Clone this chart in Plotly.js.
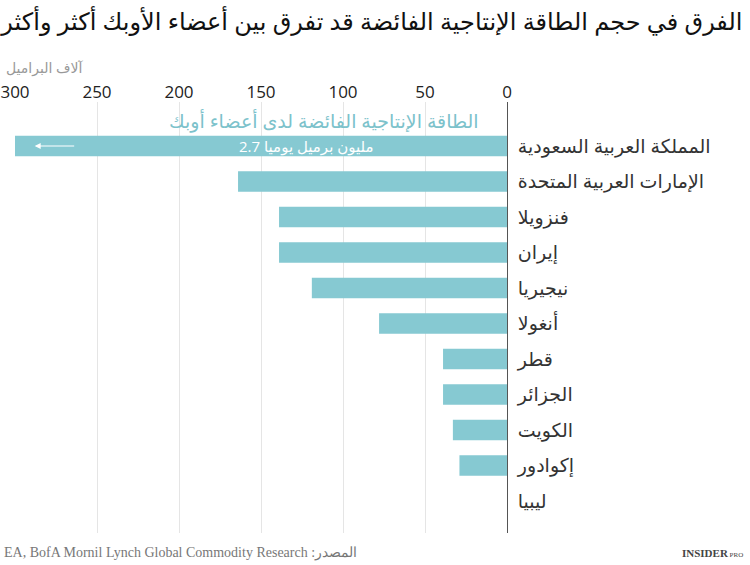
<!DOCTYPE html>
<html>
<head>
<meta charset="utf-8">
<script src="https://cdn.plot.ly/plotly-3.0.1.min.js"></script>
<style>
html,body{margin:0;padding:0;background:#fff;}
#chart{width:750px;height:565px;}
</style>
</head>
<body>
<div id="chart"></div>
<script>
// Data (thousand barrels per day)
const countries = ["المملكة العربية السعودية","الإمارات العربية المتحدة","فنزويلا","إيران","نيجيريا","أنغولا","قطر","الجزائر","الكويت","إكوادور","ليبيا"];
const spareCapacity = [2700, 164, 139, 139, 119, 78, 39, 39, 33, 29, 0];
const tickValues = [0, 50, 100, 150, 200, 250, 300];
const tickLabels = ["0", "50", "100", "150", "200", "250", "300"];

const titleText = "الفرق في حجم الطاقة الإنتاجية الفائضة قد تفرق بين أعضاء الأوبك أكثر وأكثر";
const unitText = "آلاف البراميل";
const seriesText = "الطاقة الإنتاجية الفائضة لدى أعضاء أوبك";
const saudiNote = "\u200E2.7 مليون برميل يوميا";
const sourceText = "EA, BofA Mornil Lynch Global Commodity Research :المصدر";

const barColor = "#86c9d2";
const fontFam = "'Open Sans', 'DejaVu Sans', sans-serif";

const trace = {
  type: "bar",
  orientation: "h",
  y: countries,
  x: spareCapacity,
  marker: {color: barColor, line: {width: 0}},
  hoverinfo: "x+y",
  cliponaxis: true
};

const layout = {
  width: 750, height: 565,
  margin: {l: 15, r: 243, t: 102, b: 32},
  paper_bgcolor: "#fff", plot_bgcolor: "#fff",
  showlegend: false,
  bargap: 0.42,
  font: {family: fontFam, color: "#333"},
  title: {
    text: titleText,
    font: {size: 24, color: "#111", family: fontFam},
    x: 0.99, xanchor: "right", xref: "container",
    y: 0.962, yanchor: "middle", yref: "container"
  },
  xaxis: {
    range: [300, 0],
    side: "top",
    tickvals: tickValues,
    ticktext: tickLabels,
    tickfont: {size: 17, color: "#222"},
    showgrid: true, gridcolor: "#e5e5e5", gridwidth: 1,
    zeroline: false, showline: false, ticks: "",
    fixedrange: true
  },
  yaxis: {
    type: "category",
    categoryorder: "array", categoryarray: countries,
    range: [10.9, -1.24],
    side: "right",
    tickfont: {size: 19, color: "#333"},
    ticklabelstandoff: 6,
    showgrid: false, zeroline: false,
    showline: true, linecolor: "#555", linewidth: 1,
    ticks: "", ticklen: 0,
    fixedrange: true
  },
  annotations: [
    {text: unitText, xref: "paper", yref: "paper", x: 0, y: 1, xshift: -11, yshift: 35,
     xanchor: "left", yanchor: "middle", showarrow: false,
     font: {size: 14, color: "#999", family: fontFam}},
    {text: seriesText, xref: "x", yref: "y", x: 16, y: -0.7,
     xanchor: "right", yanchor: "middle", showarrow: false,
     font: {size: 19, color: "#7cc2cb", family: fontFam}},
    {text: saudiNote, xref: "x", yref: "y", x: 122, y: 0,
     xanchor: "center", yanchor: "middle", showarrow: false,
     font: {size: 15, color: "#fff", family: fontFam}},
    {text: "", xref: "x", yref: "y", x: 288, y: 0, axref: "x", ayref: "y", ax: 263, ay: 0,
     showarrow: true, arrowhead: 2, arrowsize: 1, arrowwidth: 1.2, arrowcolor: "#fff"},
    {text: sourceText, xref: "paper", yref: "paper", x: 0, xshift: -13, y: 0, yshift: -20,
     xanchor: "left", yanchor: "middle", showarrow: false,
     font: {size: 14, color: "#777", family: "'Liberation Serif', 'DejaVu Serif', serif"}},
    {text: "<b>INSIDER</b><span style='font-size:7px'> PRO</span>", xref: "paper", yref: "paper", x: 1.484, y: 0, yshift: -20,
     xanchor: "right", yanchor: "middle", showarrow: false,
     font: {size: 11, color: "#444", family: "'Liberation Serif', 'DejaVu Serif', serif"}}
  ]
};

Plotly.newPlot("chart", [trace], layout, {displayModeBar: false, staticPlot: true});
</script>
</body>
</html>
